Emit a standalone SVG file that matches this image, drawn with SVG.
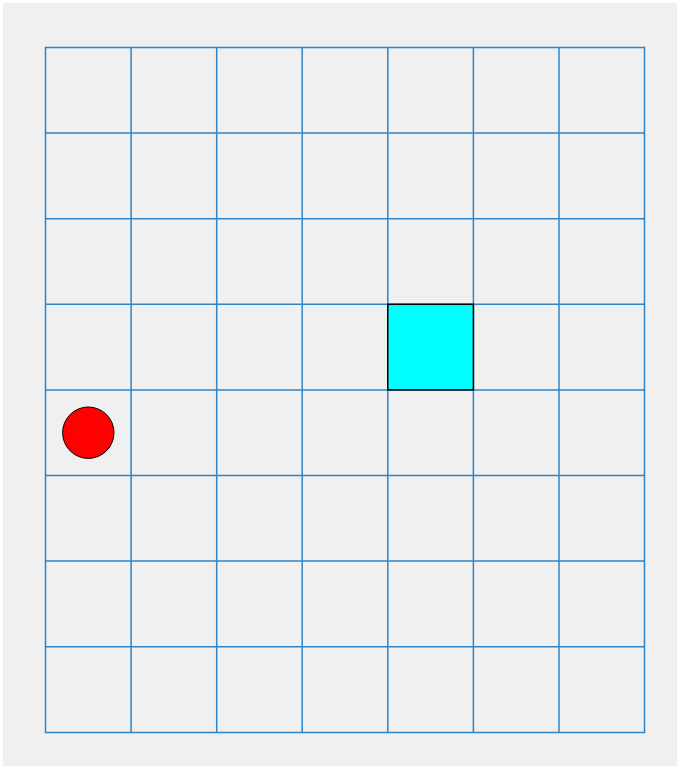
<svg xmlns="http://www.w3.org/2000/svg" width="677" height="766" viewBox="0 0 677 766">
<style>
.g{stroke:#2f84c8;stroke-width:1.5;fill:none}
</style>
<rect x="0" y="0" width="677" height="766" fill="#ffffff"/>
<rect x="3" y="3" width="674" height="763" fill="#f0f0f0"/>
<g id="grid" class="g">
<rect x="45.5" y="47.5" width="599" height="685"/>
<path d="M131.1 47.5V732.5M216.7 47.5V732.5M302.2 47.5V732.5M387.8 47.5V732.5M473.4 47.5V732.5M559 47.5V732.5"/>
<path d="M45.5 133.1H644.5M45.5 218.7H644.5M45.5 304.3H644.5M45.5 389.9H644.5M45.5 475.5H644.5M45.5 561.1H644.5M45.5 646.7H644.5"/>
</g>
<g id="goal"><rect x="387.8" y="304.3" width="85.6" height="85.6" fill="#00ffff" stroke="#000" stroke-width="1.5"/></g>
<g id="agent"><circle cx="88.3" cy="432.7" r="25.7" fill="#ff0000" stroke="#000" stroke-width="1"/></g>
</svg>
